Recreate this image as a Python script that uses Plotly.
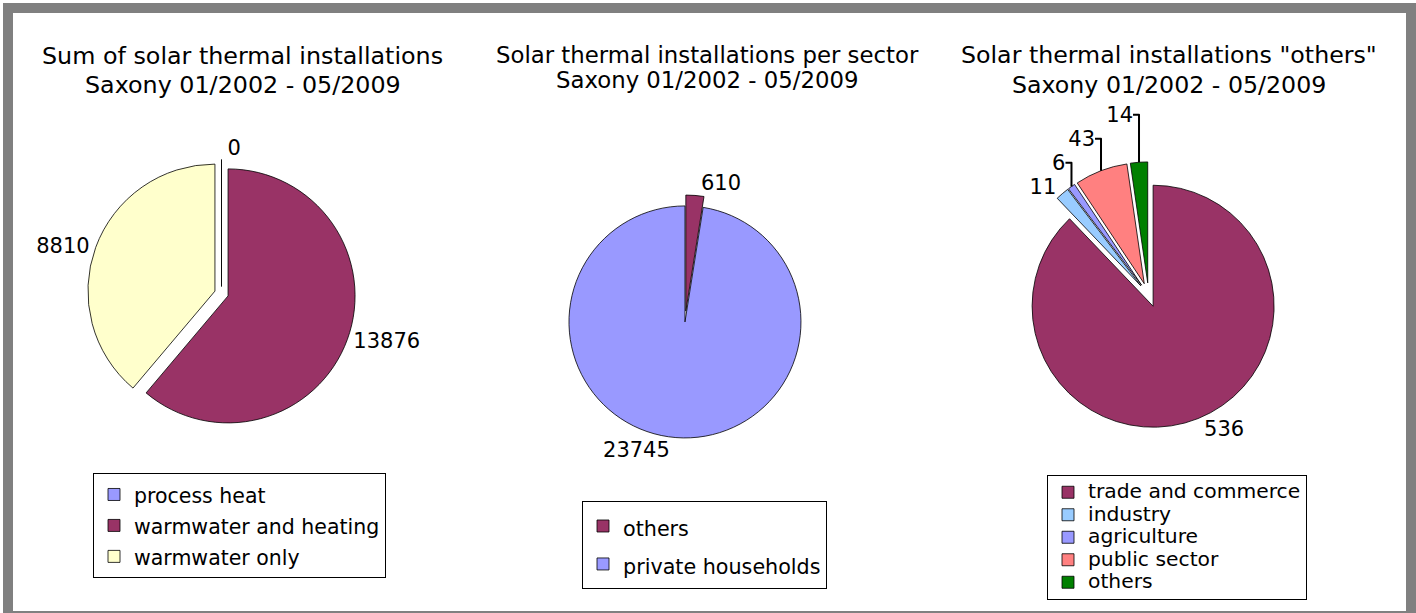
import plotly.graph_objects as go

W, H = 1416, 613
FONT = "DejaVu Sans, Verdana, sans-serif"

# Chart 1: all installations by use
use_labels = ["process heat", "warmwater and heating", "warmwater only"]
use_values = [0, 13876, 8810]
use_colors = ["#9999FF", "#993366", "#FFFFCC"]

# Chart 2: installations per sector
sector_labels = ["others", "private households"]
sector_values = [610, 23745]
sector_colors = ["#993366", "#9999FF"]

# Chart 3: breakdown of the "others" sector
other_labels = ["trade and commerce", "industry", "agriculture", "public sector", "others"]
other_values = [536, 11, 6, 43, 14]
other_colors = ["#993366", "#99CCFF", "#9999FF", "#FF8080", "#008000"]

# Two-line chart headings
titles = [
    ("Sum of solar thermal installations", "Saxony 01/2002 - 05/2009"),
    ("Solar thermal installations per sector", "Saxony 01/2002 - 05/2009"),
    ("Solar thermal installations \"others\"", "Saxony 01/2002 - 05/2009"),
]


def pie_domain(cx, cy, r, pull):
    """Square domain (paper fractions) giving radius r around pixel centre (cx, cy)."""
    half = r * (1 + pull)
    return dict(x=[(cx - half) / W, (cx + half) / W],
                y=[(H - cy - half) / H, (H - cy + half) / H])


def legend_text(labels, size):
    return [f'<span style="font-size:{size}px">{s}</span>' for s in labels]


pies = [
    dict(labels=use_labels, values=use_values, colors=use_colors, pull=0.055,
         centre=(221.5, 293.5), r=127, legend="legend", text_size=20.5),
    dict(labels=sector_labels, values=sector_values, colors=sector_colors, pull=0.047,
         centre=(685.4, 316.5), r=116, legend="legend2", text_size=20.7),
    dict(labels=other_labels, values=other_values, colors=other_colors, pull=0.1,
         centre=(1148.6, 295), r=121, legend="legend3", text_size=20.3),
]

fig = go.Figure()
for p in pies:
    fig.add_trace(go.Pie(
        labels=legend_text(p["labels"], p["text_size"]),
        values=p["values"],
        sort=False,
        direction="clockwise",
        rotation=0,
        pull=[p["pull"]] * len(p["values"]),
        marker=dict(colors=p["colors"], line=dict(color="#000000", width=0.8)),
        textinfo="value",
        texttemplate="%{value:.0f}",
        textposition="outside",
        textfont=dict(family=FONT, size=21, color="#000000"),
        domain=pie_domain(*p["centre"], p["r"], p["pull"]),
        legend=p["legend"],
        hoverinfo="label+value",
    ))

# heading line centres (x) and baselines-middle (y) in pixels, plus font size
heading_x = [242.5, 707.5, 1169]
heading_y = [(56, 85), (55, 80), (55, 85)]
heading_size = [23.8, 22.8, 23.7]
annotations = []
for (l1, l2), x, (y1, y2), fs in zip(titles, heading_x, heading_y, heading_size):
    for txt, y in ((l1, y1), (l2, y2)):
        annotations.append(dict(
            text=txt, x=x / W, y=1 - y / H, xref="paper", yref="paper",
            xanchor="center", yanchor="middle", showarrow=False,
            font=dict(family=FONT, size=fs, color="#000000")))

legend_common = dict(xanchor="left", yanchor="top", bgcolor="#FFFFFF",
                     bordercolor="#000000", borderwidth=1, traceorder="normal")

frame_grey = "#808080"
shapes = [
    dict(type="rect", xref="paper", yref="paper", x0=3 / W, x1=13 / W, y0=0, y1=1 - 3 / H,
         fillcolor=frame_grey, line=dict(width=0)),
    dict(type="rect", xref="paper", yref="paper", x0=3 / W, x1=1, y0=1 - 13 / H, y1=1 - 3 / H,
         fillcolor=frame_grey, line=dict(width=0)),
    dict(type="rect", xref="paper", yref="paper", x0=1406 / W, x1=1, y0=0, y1=1 - 3 / H,
         fillcolor=frame_grey, line=dict(width=0)),
    dict(type="rect", xref="paper", yref="paper", x0=3 / W, x1=1, y0=0, y1=2 / H,
         fillcolor=frame_grey, line=dict(width=0)),
]

fig.update_layout(
    width=W, height=H,
    margin=dict(l=0, r=0, t=0, b=0),
    paper_bgcolor="#FFFFFF",
    plot_bgcolor="#FFFFFF",
    font=dict(family=FONT, color="#000000"),
    annotations=annotations,
    shapes=shapes,
    legend=dict(x=93 / W, y=1 - 473 / H, font=dict(family=FONT, size=21.5, color="#000000"),
                **legend_common),
    legend2=dict(x=582 / W, y=1 - 501 / H, font=dict(family=FONT, size=26.9, color="#000000"),
                 **legend_common),
    legend3=dict(x=1047 / W, y=1 - 475 / H, font=dict(family=FONT, size=15, color="#000000"),
                 **legend_common),
)

fig.write_html("out.html")
